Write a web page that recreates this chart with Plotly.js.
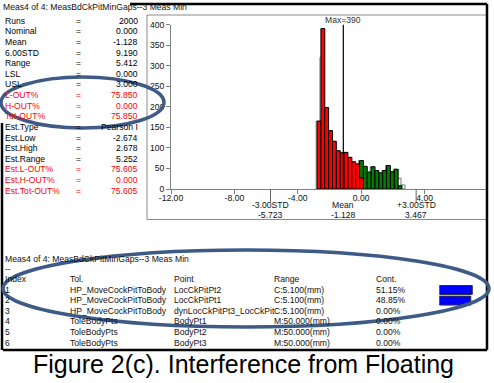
<!DOCTYPE html>
<html><head><meta charset="utf-8">
<script src="https://cdn.plot.ly/plotly-3.0.1.min.js"></script>
<style>html,body{margin:0;padding:0;background:#fff;overflow:hidden}#chart{width:494px;height:383px}</style>
</head><body><div id="chart"></div>
<script>
// ---------- data ----------
const binCenters = [-2.66,-2.42,-2.18,-1.93,-1.69,-1.44,-1.20,-0.96,-0.71,-0.47,-0.23,0.02,0.26,0.50,0.75,0.99,1.24,1.48,1.72,1.97,2.21,2.45,2.70];
const binWidth = 0.2436;
const redCounts   = [165,390,198,142,116,93,88,89,77,66,61,27,null,null,null,null,null,null,null,null,null,null,null];
const greenCounts = [null,null,null,null,null,null,null,null,null,null,null,69,55,41,54,45,39,45,57,42,48,8,null];
const fitCounts   = [165,320,192,142,116,93,88,89,77,66,61,69,55,41,54,45,39,45,57,42,48,26,10];
const xTickVals = [-12,-8,-4,0,4];
const xTickText = ["-12.00","-8.00","-4.00","0.00","4.00"];
const yTickVals = [0,50,100,150,200,250,300,350,400];
const meanVal = -1.128, lowStd = -5.723, highStd = 3.467, maxCount = 390;

const titleText = "Meas4 of 4: MeasBdCkPitMinGaps--3 Meas Min";
const statLabels = ["Runs","Nominal","Mean","6.00STD","Range","LSL","USL","L-OUT%","H-OUT%","Tot-OUT%","Est.Type","Est.Low","Est.High","Est.Range","Est.L-OUT%","Est.H-OUT%","Est.Tot-OUT%"];
const statValues = ["2000","0.000","-1.128","9.190","5.412","0.000","3.000","75.850","0.000","75.850","Pearson I","-2.674","2.678","5.252","75.605","0.000","75.605"];
const statRed    = [0,0,0,0,0,0,0,1,1,1,0,0,0,0,1,1,1];

const tblHeader = ["Index","Tol.","Point","Range","Cont."];
const tblIndex = ["1","2","3","4","5","6"];
const tblTol = ["HP_MoveCockPitToBody","HP_MoveCockPitToBody","HP_MoveCockPitToBody","ToleBodyPts","ToleBodyPts","ToleBodyPts"];
const tblPoint = ["LocCkPitPt2","LocCkPitPt1","dynLocCkPitPt3_LocCkPit","BodyPt1","BodyPt2","BodyPt3"];
const tblRange = ["C:5.100(mm)","C:5.100(mm)","C:5.100(mm)","M:50.000(mm)","M:50.000(mm)","M:50.000(mm)"];
const contValues = [51.15,48.85,0,0,0,0];
const caption = "Figure 2(c). Interference from Floating";

// ---------- layout helpers ----------
const W = 494, H = 383;
const px = x => x / W, py = y => 1 - y / H;
const FONT = "Liberation Sans, Arial, sans-serif";
const FS = 8.6;
const ann = [];
function txt(t, x, y, anchor, color, size, extra) {
  ann.push(Object.assign({text: t, x: px(x), y: py(y), xref: 'paper', yref: 'paper',
    xanchor: anchor, yanchor: 'middle', showarrow: false, borderpad: 0,
    font: {family: FONT, size: size || FS, color: color || '#000'}}, extra || {}));
}

// stats panel
txt(titleText, 2, 7, 'left', '#111');
statLabels.forEach((l, i) => {
  const y = 20.7 + i * 10.625;
  const c = statRed[i] ? '#ff0000' : '#000';
  txt(l, 4, y, 'left', c);
  txt('=', 78, y, 'center', c);
  txt(statValues[i], 139, y, 'right', c);
});

// histogram annotations
ann.push({text: 'Max=' + maxCount, x: meanVal, xref: 'x', y: py(20.5), yref: 'paper', xanchor: 'center', yanchor: 'middle', showarrow: false, borderpad: 0, font: {family: FONT, size: FS, color: '#333'}});
[[lowStd, '-3.00STD'], [meanVal, 'Mean'], [highStd, '+3.00STD']].forEach(([v, lab]) => {
  ann.push({text: lab, x: v, xref: 'x', y: py(205.5), yref: 'paper', xanchor: 'center', yanchor: 'middle', showarrow: false, borderpad: 0, font: {family: FONT, size: FS, color: '#111'}});
  ann.push({text: v.toFixed(3), x: v, xref: 'x', y: py(214.5), yref: 'paper', xanchor: 'center', yanchor: 'middle', showarrow: false, borderpad: 0, font: {family: FONT, size: FS, color: '#111'}});
});

// table
txt(titleText, 4, 258.5, 'left', '#111');
txt('--', 4, 268.5, 'left', '#111');
const colX = [4, 69, 173, 273, 375];
tblHeader.forEach((h, j) => txt(h, colX[j], 279, 'left', '#111'));
tblIndex.forEach((idx, i) => {
  const y = 289.5 + i * 10.6;
  txt(idx, colX[0], y, 'left', '#111');
  txt(tblTol[i], colX[1], y, 'left', '#111');
  txt(tblPoint[i], colX[2], y, 'left', '#111');
  txt(tblRange[i], colX[3], y, 'left', '#111');
  txt(contValues[i].toFixed(2) + '%', colX[4], y, 'left', '#111');
});

// caption
txt(caption, 243, 364, 'center', '#000', 25);

// ---------- shapes ----------
const shapes = [];
function pline(x0, y0, x1, y1, color, width) {
  shapes.push({type: 'line', xref: 'paper', yref: 'paper', x0: px(x0), y0: py(y0), x1: px(x1), y1: py(y1), line: {color, width}});
}
// chart panel frame
pline(147, 15, 488, 15, '#8a8a8a', 1);
pline(147, 15, 147, 219.5, '#8a8a8a', 1);
pline(147, 219.5, 488, 219.5, '#8a8a8a', 1);
// outer black border
pline(130, 4, 487, 4, '#000', 2.5);
pline(487, 4, 487, 350, '#000', 2.5);
pline(3, 350, 487, 350, '#000', 2.5);
pline(2, 123, 2, 350, '#000', 2.5);
// mean line
shapes.push({type: 'line', xref: 'x', yref: 'y', x0: meanVal, x1: meanVal, y0: 0, y1: 400, line: {color: '#000', width: 1.2}});
// std markers below axis
[lowStd, highStd].forEach(v => shapes.push({type: 'line', xref: 'x', yref: 'paper', x0: v, x1: v, y0: py(189), y1: py(202), line: {color: '#666', width: 1}}));
// ellipses
const ELC = '#3d5b86';
shapes.push({type: 'circle', xref: 'paper', yref: 'paper', x0: px(1), x1: px(164), y0: py(128), y1: py(77), line: {color: ELC, width: 3.5}});
shapes.push({type: 'circle', xref: 'paper', yref: 'paper', x0: px(3), x1: px(489), y0: py(327), y1: py(250), line: {color: ELC, width: 3.5}});

// ---------- traces ----------
const traces = [
  {type: 'bar', x: binCenters.map(c => c - 0.06), y: fitCounts, width: binWidth, marker: {color: 'rgba(255,255,255,0)', line: {color: '#777', width: 1}}, hoverinfo: 'skip'},
  {type: 'bar', x: binCenters, y: greenCounts, width: binWidth, marker: {color: '#007a00', line: {color: '#000', width: 1}}, hoverinfo: 'skip'},
  {type: 'bar', x: binCenters, y: redCounts, width: binWidth, marker: {color: '#ff0000', line: {color: '#000', width: 1}}, hoverinfo: 'skip'},
  {type: 'bar', orientation: 'h', x: contValues.map(v => v > 0 ? v : null), y: tblIndex.map(Number), width: 0.85, xaxis: 'x2', yaxis: 'y2', marker: {color: '#0000ff', line: {color: '#333', width: 1}}, hoverinfo: 'skip'}
];

const axFont = {family: FONT, size: FS, color: '#111'};
const layout = {
  width: W, height: H, margin: {l: 0, r: 0, t: 0, b: 0, pad: 0},
  paper_bgcolor: '#fff', plot_bgcolor: 'rgba(0,0,0,0)',
  showlegend: false, barmode: 'overlay', bargap: 0,
  xaxis: {domain: [171 / W, 488 / W], range: [-12, 8], showline: true, linecolor: '#808080', linewidth: 1,
    ticks: 'outside', ticklen: 4, tickcolor: '#808080', tickvals: xTickVals, ticktext: xTickText,
    ticklabelstandoff: -3,
    showgrid: false, zeroline: false, tickfont: axFont, fixedrange: true},
  yaxis: {domain: [py(189), py(24.5)], range: [0, 400], showline: true, linecolor: '#808080', linewidth: 1,
    ticks: 'outside', ticklen: 4, tickcolor: '#808080', tickvals: yTickVals, ticktext: yTickVals.map(String),
    showgrid: false, zeroline: false, tickfont: axFont, fixedrange: true},
  xaxis2: {domain: [439.3 / W, (439.3 + 60 * 0.645) / W], range: [0, 60], visible: false, anchor: 'y2', fixedrange: true},
  yaxis2: {domain: [py(348.3), py(284.7)], range: [6.5, 0.5], visible: false, anchor: 'x2', fixedrange: true},
  shapes, annotations: ann
};
Plotly.newPlot('chart', traces, layout, {displayModeBar: false, staticPlot: true});
</script></body></html>
